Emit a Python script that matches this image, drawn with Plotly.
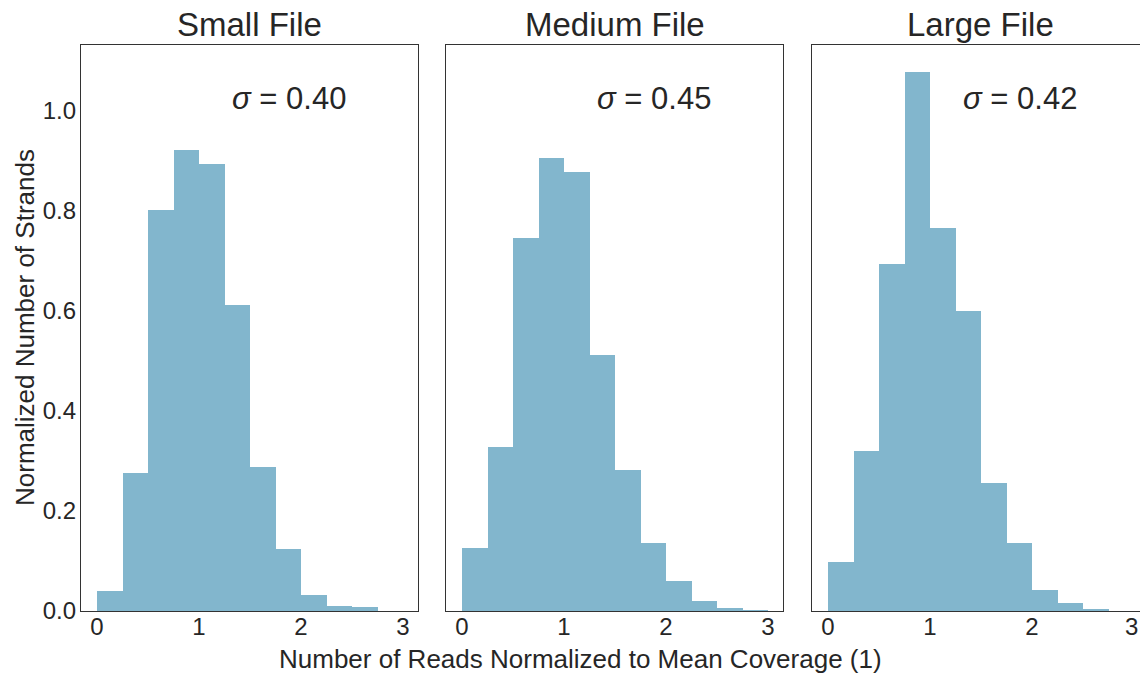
import plotly.graph_objects as go

bin_edges = [0.0, 0.25, 0.5, 0.75, 1.0, 1.25, 1.5, 1.75, 2.0, 2.25, 2.5, 2.75, 3.0]
small_vals = [0.040, 0.275, 0.800, 0.920, 0.893, 0.610, 0.287, 0.124, 0.032, 0.010, 0.008, 0.0]
medium_vals = [0.126, 0.327, 0.745, 0.904, 0.876, 0.511, 0.281, 0.136, 0.060, 0.020, 0.006, 0.002]
large_vals = [0.098, 0.320, 0.693, 1.076, 0.764, 0.599, 0.255, 0.136, 0.042, 0.016, 0.004, 0.0]
panel_titles = ["Small File", "Medium File", "Large File"]
sigma_labels = ["0.40", "0.45", "0.42"]
x_ticks = [0, 1, 2, 3]
y_ticks = [0.0, 0.2, 0.4, 0.6, 0.8, 1.0]

W, H = 1140, 673
FONT = "Liberation Sans, Arial, sans-serif"
TXT = "#262626"
BAR = "#82b6cd"

centers = [(bin_edges[i] + bin_edges[i + 1]) / 2 for i in range(len(bin_edges) - 1)]
widths = [bin_edges[i + 1] - bin_edges[i] for i in range(len(bin_edges) - 1)]

# panel pixel geometry
panels_px = [(81, 418), (446, 783), (812, 1140)]
top_px, bot_px = 45, 611
ydom = [1 - bot_px / H, 1 - top_px / H]

fig = go.Figure()
series = [small_vals, medium_vals, large_vals]
for i, vals in enumerate(series):
    ax = "" if i == 0 else str(i + 1)
    fig.add_trace(go.Bar(x=centers, y=vals, width=widths, marker=dict(color=BAR, line=dict(width=0)),
                         xaxis="x" + ax, yaxis="y" + ax, showlegend=False))

layout = dict(
    width=W, height=H,
    margin=dict(l=0, r=0, t=0, b=0, autoexpand=False),
    paper_bgcolor="white", plot_bgcolor="white",
    bargap=0,
    font=dict(family=FONT, color=TXT, size=20),
)
px_per_unit = 102.0
annotations = []
for i, (l, r) in enumerate(panels_px):
    ax = "" if i == 0 else str(i + 1)
    zero_px = l + 0.157 * px_per_unit
    xr = [-0.157, (r - zero_px) / px_per_unit]
    last = i == 2
    layout["xaxis" + ax] = dict(
        domain=[l / W, r / W], range=xr, anchor="y" + ax,
        tickvals=x_ticks[:-1] if last else x_ticks, showgrid=False, zeroline=False,
        showline=True, linecolor="#333333", linewidth=1.2, mirror=True,
        ticks="", ticklabelstandoff=-6, automargin=False,
        tickfont=dict(size=24, color=TXT, family=FONT),
    )
    layout["yaxis" + ax] = dict(
        domain=ydom, range=[0, 1.13], anchor="x" + ax,
        tickvals=y_ticks, ticktext=[f"{v:.1f}" for v in y_ticks],
        showticklabels=(i == 0), showgrid=False, zeroline=False,
        showline=True, linecolor="#333333", linewidth=1.2, mirror=(i < 2),
        ticks="", ticklabelstandoff=-1, automargin=False,
        tickfont=dict(size=24, color=TXT, family=FONT),
    )
    annotations.append(dict(
        x=(l + 337 / 2) / W, y=1 - 25 / H, xref="paper", yref="paper",
        text=panel_titles[i], showarrow=False, xanchor="center", yanchor="middle",
        font=dict(size=33, color=TXT, family=FONT),
    ))
    annotations.append(dict(
        x=1.30, y=1.024, xref="x" + ax, yref="y" + ax,
        text=f"<i>σ</i> = {sigma_labels[i]}", showarrow=False, xanchor="left", yanchor="middle",
        font=dict(size=31, color=TXT, family=FONT),
    ))

# last tick label of the right panel sits at the window edge
annotations.append(dict(
    x=1.0, y=1 - 626 / H, xref="paper", yref="paper",
    text=str(x_ticks[-1]), showarrow=False, xanchor="right", yanchor="middle",
    font=dict(size=24, color=TXT, family=FONT),
))
annotations.append(dict(
    x=580 / W, y=1 - 659 / H, xref="paper", yref="paper",
    text="Number of Reads Normalized to Mean Coverage (1)", showarrow=False,
    xanchor="center", yanchor="middle", font=dict(size=26, color=TXT, family=FONT),
))
annotations.append(dict(
    x=25 / W, y=1 - 328 / H, xref="paper", yref="paper",
    text="Normalized Number of Strands", showarrow=False, textangle=-90,
    xanchor="center", yanchor="middle", font=dict(size=26, color=TXT, family=FONT),
))
layout["annotations"] = annotations
fig.update_layout(**layout)
fig.write_html("out.html", config={"displayModeBar": False},
               post_script="document.body.style.margin='0';document.body.style.overflow='hidden';")
